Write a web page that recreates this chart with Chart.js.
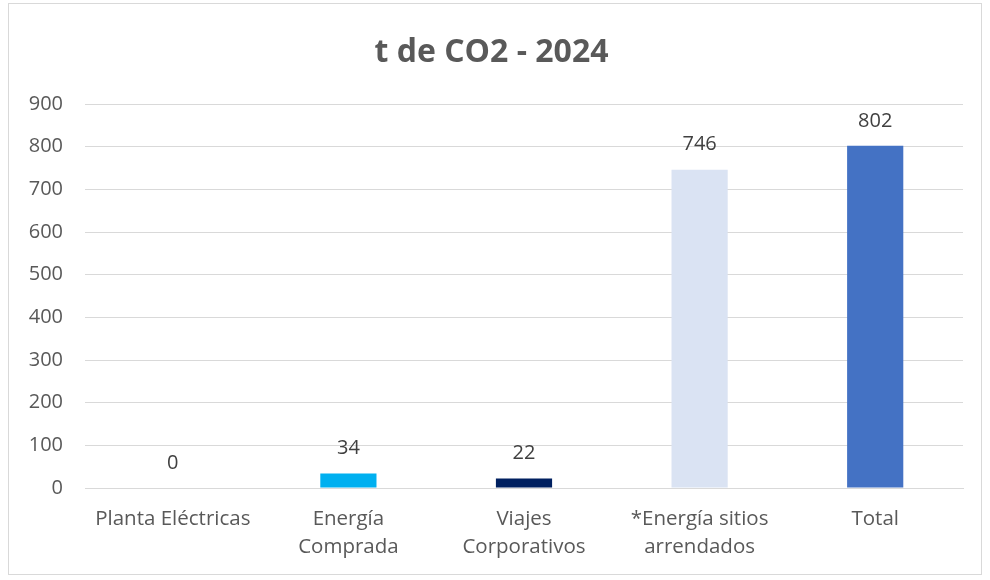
<!DOCTYPE html>
<html>
<head>
<meta charset="utf-8">
<script src="https://cdn.jsdelivr.net/npm/chart.js@4/dist/chart.umd.min.js"></script>
<style>
  html, body { margin: 0; padding: 0; background: #ffffff; }
  #wrap { position: absolute; left: 0; top: 0; width: 990px; height: 580px; }
  #frame { position: absolute; left: 8px; top: 3px; width: 974px; height: 572px; border: 1px solid #D9D9D9; box-sizing: border-box; pointer-events: none; }
  canvas { position: absolute; left: 0; top: 0; }
</style>
</head>
<body>
<div id="wrap">
  <canvas id="c" width="990" height="580"></canvas>
  <div id="frame"></div>
</div>
<script>
const titleText = 't de CO2 - 2024';
const categories = [
  'Planta Eléctricas',
  ['Energía', 'Comprada'],
  ['Viajes', 'Corporativos'],
  ['*Energía sitios', 'arrendados'],
  'Total'
];
const values = [0, 34, 22, 746, 802];
const barColors = ['#A5A5A5', '#00B0F0', '#002060', '#DAE3F3', '#4472C4'];
const yTicks = [0, 100, 200, 300, 400, 500, 600, 700, 800, 900];

const valueLabels = {
  id: 'valueLabels',
  afterDatasetsDraw(chart) {
    const ctx = chart.ctx;
    const meta = chart.getDatasetMeta(0);
    ctx.save();
    ctx.font = '20px "Open Sans"';
    ctx.fillStyle = '#404040';
    ctx.textAlign = 'center';
    ctx.textBaseline = 'middle';
    meta.data.forEach((bar, i) => {
      ctx.fillText(String(chart.data.datasets[0].data[i]), bar.x, bar.y - 25);
    });
    ctx.restore();
  }
};

new Chart(document.getElementById('c'), {
  type: 'bar',
  data: {
    labels: categories,
    datasets: [{
      data: values,
      backgroundColor: barColors,
      borderWidth: 0,
      barPercentage: 0.64,
      categoryPercentage: 0.5
    }]
  },
  options: {
    responsive: false,
    animation: false,
    devicePixelRatio: 1,
    layout: { padding: { left: 20, right: 27, top: 0, bottom: 12 } },
    plugins: {
      legend: { display: false },
      tooltip: { enabled: false },
      title: {
        display: true,
        text: titleText,
        color: '#595959',
        font: { family: '"Open Sans", sans-serif', size: 32, weight: 'bold', lineHeight: 1.2 },
        padding: { top: 33.8, bottom: 31.8 }
      }
    },
    scales: {
      x: {
        grid: { display: false, drawTicks: false },
        border: { display: true, color: '#D9D9D9', width: 1 },
        ticks: {
          color: '#595959',
          font: { family: '"Open Sans", sans-serif', size: 20.5, lineHeight: 1.37 },
          padding: 17,
          maxRotation: 0,
          autoSkip: false
        },
        afterFit(s) { s.height = 80; }
      },
      y: {
        min: 0,
        max: 900,
        afterBuildTicks(s) { s.ticks = yTicks.map(v => ({ value: v })); },
        grid: { color: '#D9D9D9', lineWidth: 1, drawTicks: false },
        border: { display: false },
        ticks: {
          color: '#595959',
          font: { family: '"Open Sans", sans-serif', size: 20 },
          padding: 22
        },
        afterFit(s) { s.width = 65; }
      }
    }
  },
  plugins: [valueLabels]
});
</script>
</body>
</html>
